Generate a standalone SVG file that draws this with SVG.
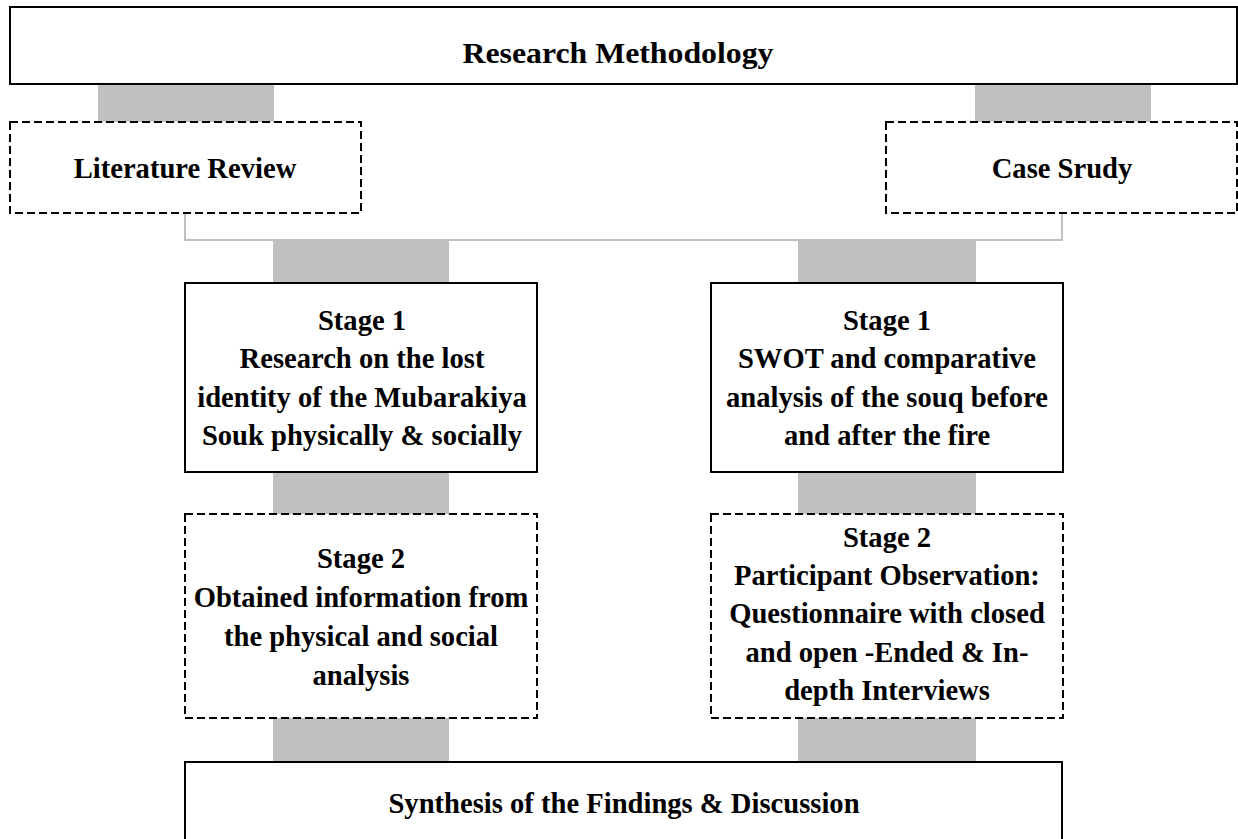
<svg xmlns="http://www.w3.org/2000/svg" width="1238" height="839" viewBox="0 0 1238 839">
<style>
.box{fill:#fff;stroke:#000;stroke-width:2}
.dash{fill:#fff;stroke:#000;stroke-width:2;stroke-dasharray:8 4}
.bar{fill:#c0c0c0}
.t{font-family:"Liberation Serif","Times New Roman",serif;font-weight:bold;font-size:28.6px;fill:#000;text-anchor:middle}
.ln{fill:none;stroke:#c0c0c0;stroke-width:2}
</style>
<rect width="1238" height="839" fill="#fff"/>
<g id="connectors">
<rect class="bar" x="98" y="84" width="176" height="38"/>
<rect class="bar" x="975" y="84" width="176" height="38"/>
<polyline class="ln" points="185,213 185,240 1062,240 1062,213"/>
<rect class="bar" x="273" y="241" width="176" height="42"/>
<rect class="bar" x="798" y="241" width="178" height="42"/>
<rect class="bar" x="273" y="472" width="176" height="42"/>
<rect class="bar" x="798" y="472" width="178" height="42"/>
<rect class="bar" x="273" y="718" width="176" height="44"/>
<rect class="bar" x="798" y="718" width="178" height="44"/>
</g>
<g id="research-methodology">
<rect class="box" x="10" y="7" width="1227" height="77"/>
<text class="t" x="618" y="63" font-size="28" textLength="311" lengthAdjust="spacingAndGlyphs">Research Methodology</text>
</g>
<g id="literature-review">
<rect class="dash" x="10" y="122" width="351" height="91"/>
<text class="t" x="185" y="178">Literature Review</text>
</g>
<g id="case-study">
<rect class="dash" x="886" y="122" width="351" height="91"/>
<text class="t" x="1062" y="178">Case Srudy</text>
</g>
<g id="lit-stage1">
<rect class="box" x="185" y="283" width="352" height="189"/>
<text class="t" x="362"><tspan x="362" y="330">Stage 1</tspan><tspan x="362" y="368">Research on the lost</tspan><tspan x="362" y="407">identity of the Mubarakiya</tspan><tspan x="362" y="445">Souk physically &amp; socially</tspan></text>
</g>
<g id="case-stage1">
<rect class="box" x="711" y="283" width="352" height="189"/>
<text class="t" x="887"><tspan x="887" y="330">Stage 1</tspan><tspan x="887" y="368">SWOT and comparative</tspan><tspan x="887" y="407">analysis of the souq before</tspan><tspan x="887" y="445">and after the fire</tspan></text>
</g>
<g id="lit-stage2">
<rect class="dash" x="185" y="514" width="352" height="204"/>
<text class="t" x="361"><tspan x="361" y="568">Stage 2</tspan><tspan x="361" y="607">Obtained information from</tspan><tspan x="361" y="646">the physical and social</tspan><tspan x="361" y="685">analysis</tspan></text>
</g>
<g id="case-stage2">
<rect class="dash" x="711" y="514" width="352" height="204"/>
<text class="t" x="887"><tspan x="887" y="547">Stage 2</tspan><tspan x="887" y="585">Participant Observation:</tspan><tspan x="887" y="623">Questionnaire with closed</tspan><tspan x="887" y="662">and open -Ended &amp; In-</tspan><tspan x="887" y="700">depth Interviews</tspan></text>
</g>
<g id="synthesis">
<rect class="box" x="185" y="762" width="877" height="90"/>
<text class="t" x="624" y="813" font-size="29">Synthesis of the Findings &amp; Discussion</text>
</g>
</svg>
